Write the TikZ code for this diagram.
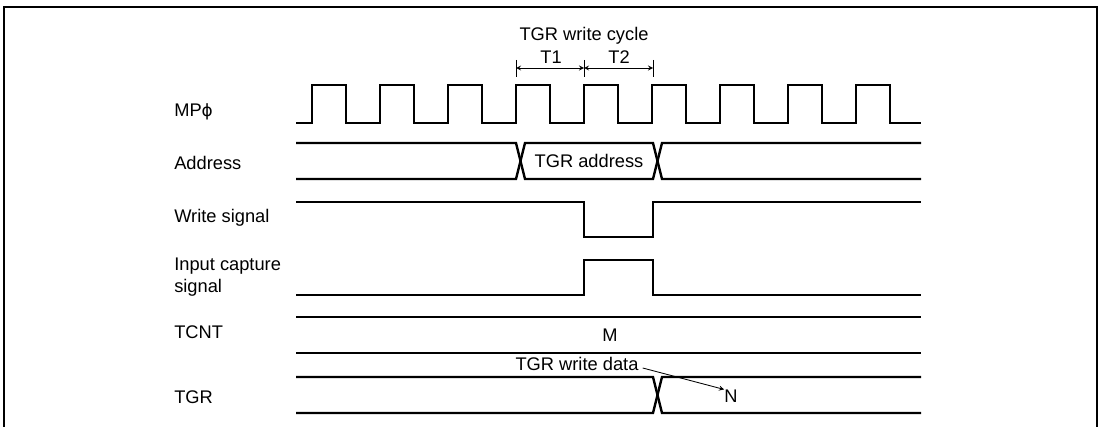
\documentclass[tikz,border=0pt]{standalone}
\usepackage{fontspec}
\setmainfont{Liberation Sans}
\newfontfamily\phifont{DejaVu Sans}
\usepackage{tikz}
\usetikzlibrary{positioning,arrows,calc}

\begin{document}
\begin{tikzpicture}[
  x=0.025cm,y=-0.025cm,
  wave/.style={line width=1.7pt,line join=miter},
  siglabel/.style={anchor=west,inner sep=0pt,align=left,font=\fontsize{13}{16}\selectfont},
  txt/.style={inner sep=0pt,font=\fontsize{13}{16}\selectfont},
  dimline/.style={<->,>=stealth,line width=0.6pt},
  tick/.style={line width=0.6pt},
  arrow/.style={->,>=stealth,line width=0.6pt},
  frame/.style={line width=1.8pt},
]
\useasboundingbox (0,0) rectangle (1101,427);

% === FRAME ===
\draw[frame] (4,427) -- (4,7) -- (1097,7) -- (1097,427);

% === SIGNAL NAMES ===
\node[siglabel] (lclk)  at (174,112) {MP{\phifont\fontsize{12}{16}\selectfont ϕ}};
\node[siglabel] (laddr) at (174,163) {Address};
\node[siglabel] (lwr)   at (174,218) {Write signal};
\node[siglabel] (lic)   at (174,277) {Input capture\\signal};
\node[siglabel] (ltcnt) at (174,332) {TCNT};
\node[siglabel] (ltgr)  at (174,397) {TGR};

% === TGR WRITE CYCLE ===
\coordinate (c0) at (516,68);
\coordinate (c1) at (584,68);
\coordinate (c2) at (653,68);
\foreach \c in {c0,c1,c2}
  \draw[tick] ($(\c)+(0,-8)$) -- ($(\c)+(0,9)$);
\draw[dimline] (c0) -- (c1);
\draw[dimline] (c1) -- (c2);
\node[txt] (t1) at (551,57) {T1};
\node[txt] (t2) at (619,57) {T2};
\node[txt] (cyc) at (584,36) {TGR write cycle};

% === MP clock ===
\draw[wave] (296,123)
  \foreach \x in {312,380,...,856} { -- (\x,123) -- (\x,85) -- (\x+34,85) -- (\x+34,123) }
  -- (921,123);

% === Address ===
\draw[wave] (296,143) -- (516,143) -- (525,179) -- (653,179) -- (662,143) -- (921,143);
\draw[wave] (296,179) -- (516,179) -- (525,143) -- (653,143) -- (662,179) -- (921,179);
\node[txt] (addr) at (589,161) {TGR address};

% === Write signal ===
\draw[wave] (296,202) -- (584,202) -- (584,237) -- (653,237) -- (653,202) -- (921,202);

% === Input capture signal ===
\draw[wave] (296,295) -- (584,295) -- (584,260) -- (653,260) -- (653,295) -- (921,295);

% === TCNT ===
\draw[wave] (296,317) -- (921,317);
\draw[wave] (296,353) -- (921,353);
\node[txt] (m) at (610,335) {M};

% === TGR ===
\draw[wave] (296,377) -- (653,377) -- (662,413) -- (921,413);
\draw[wave] (296,413) -- (653,413) -- (662,377) -- (921,377);
\node[txt] (wdata) at (577,364) {TGR write data};
\node[txt] (n) at (731,396) {N};
\draw[arrow] (wdata.east) ++(4,4) -- (n.north west);

\end{tikzpicture}
\end{document}
